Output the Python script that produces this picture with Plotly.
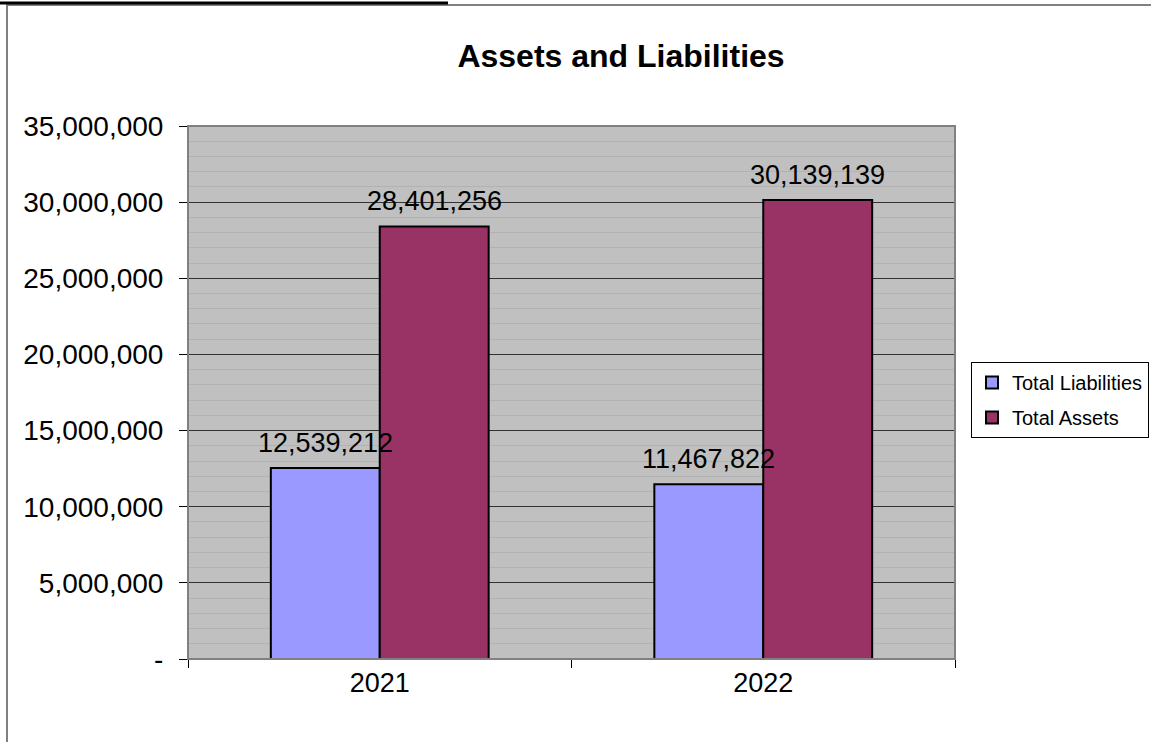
import plotly.graph_objects as go

years = ["2021", "2022"]
total_liabilities = [12539212, 11467822]
total_assets = [28401256, 30139139]
series_names = ["Total Liabilities", "Total Assets"]
ytick_vals = [0, 5000000, 10000000, 15000000, 20000000, 25000000, 30000000, 35000000]
ytick_text = ["-", "5,000,000", "10,000,000", "15,000,000", "20,000,000", "25,000,000", "30,000,000", "35,000,000"]

W, H = 1151, 742
L, R, T, B = 188, 955, 126, 659
FONT = "Arial, Liberation Sans, sans-serif"
BARGAP = 0.432

fig = go.Figure()
fig.add_trace(go.Bar(
    name=series_names[0], x=years, y=total_liabilities, legendgroup="a",
    marker=dict(color="#9999FF", line=dict(color="black", width=2)),
))
fig.add_trace(go.Bar(
    name=series_names[1], x=years, y=total_assets, legendgroup="b",
    marker=dict(color="#993366", line=dict(color="black", width=2)),
))

pw = R - L
ph = B - T
def px_x(x):
    return (x - L) / pw
def px_y(y):
    return (B - y) / ph

# data labels drawn above every bar (on top of all bars)
bar_w = pw / len(years) * (1 - BARGAP) / 2
annotations = []
for k, vals in enumerate([total_liabilities, total_assets]):
    shift = (k - 0.5) * bar_w
    for i, v in enumerate(vals):
        annotations.append(dict(
            x=i, y=v, xref="x", yref="y", text=f"{v:,}", showarrow=False,
            xanchor="center", yanchor="bottom", xshift=shift, yshift=8,
            font=dict(size=27, color="black", family=FONT),
        ))

fig.update_layout(
    width=W, height=H,
    margin=dict(l=L, r=W - R, t=T, b=H - B, pad=0, autoexpand=False),
    paper_bgcolor="white", plot_bgcolor="#C0C0C0",
    barmode="group", bargap=BARGAP, bargroupgap=0,
    font=dict(family=FONT, color="black", size=28),
    title=dict(text="<b>Assets and Liabilities</b>", font=dict(size=32, family=FONT, color="black"),
               x=621 / W, xanchor="center", y=1 - 56 / H, yanchor="middle",
               xref="container", yref="container"),
    legend=dict(x=px_x(1149), y=px_y(362), xanchor="right", yanchor="top",
                bordercolor="black", borderwidth=1, bgcolor="white",
                font=dict(size=20, family=FONT, color="black"),
                tracegroupgap=6, itemwidth=30),
    showlegend=True,
    annotations=annotations,
)
fig.update_xaxes(
    type="category",
    showline=True, linecolor="black", linewidth=1,
    ticks="outside", tickson="boundaries", ticklen=8, tickcolor="black",
    tickfont=dict(size=27), showgrid=False,
)
fig.update_yaxes(
    range=[0, 35000000], tickvals=ytick_vals, ticktext=ytick_text,
    showline=True, linecolor="black", linewidth=1,
    ticks="outside", ticklen=8, tickcolor="black", ticklabelstandoff=10,
    tickfont=dict(size=28),
    showgrid=True, gridcolor="#333333", gridwidth=1,
    minor=dict(dtick=1000000, showgrid=True, gridcolor="#B2B2B2", gridwidth=1),
    zeroline=False,
)

shapes = [
    dict(type="rect", xref="paper", yref="paper", x0=0, x1=1, y0=0, y1=1,
         line=dict(color="#808080", width=2), layer="above"),
    dict(type="rect", xref="paper", yref="paper",
         x0=px_x(7), x1=px_x(1170), y0=px_y(770), y1=px_y(5),
         line=dict(color="#808080", width=2), layer="below"),
    dict(type="line", xref="paper", yref="paper",
         x0=px_x(0), x1=px_x(448), y0=px_y(3), y1=px_y(3),
         line=dict(color="black", width=3)),
]
fig.update_layout(shapes=shapes)

fig.write_html("out.html", config={"displayModeBar": False},
               post_script="document.body.style.margin='0';")
